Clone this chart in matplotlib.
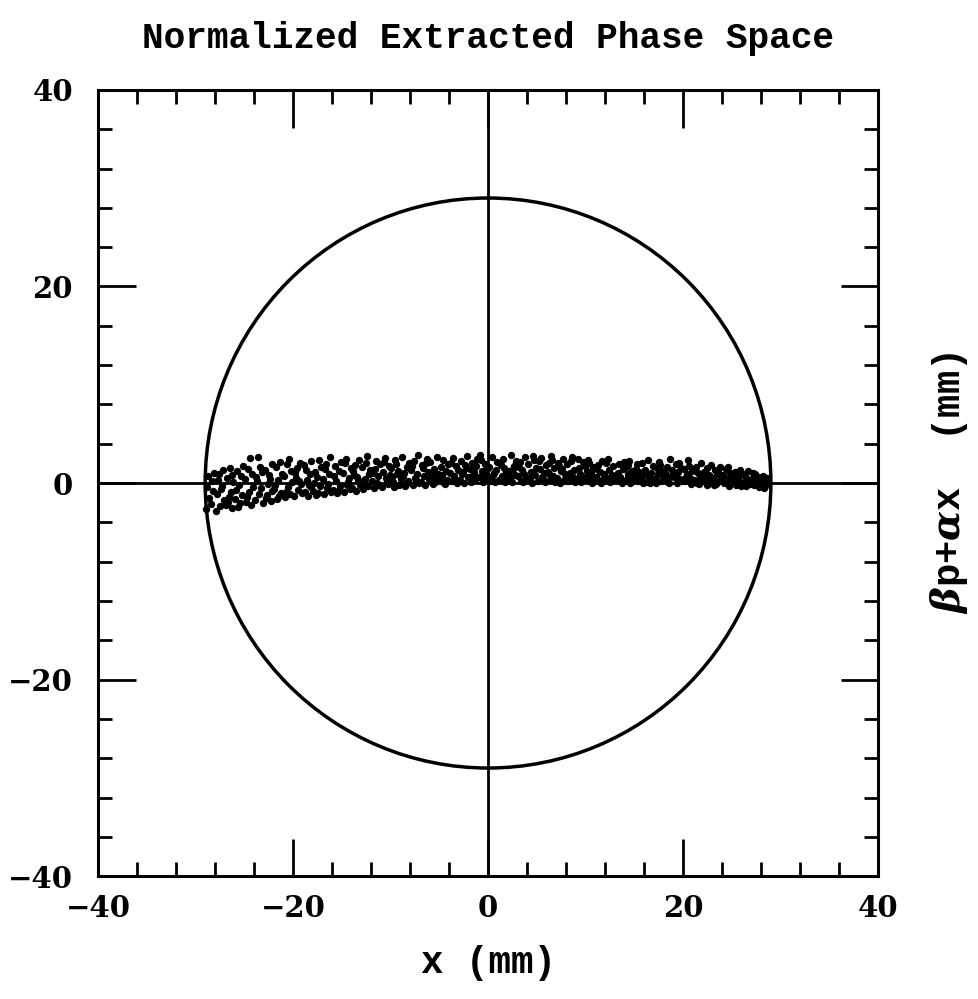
import numpy as np
import matplotlib.pyplot as plt
from matplotlib.patches import Circle
from matplotlib.ticker import MultipleLocator

# extracted particles (mm)
x_pts = [
    -28.9, -28.7, -28.6, -28.4, -28.3, -28.2, -28.8, -28.1,
    -27.9, -27.8, -27.6, -27.5, -27.3, -27.2, -27.1, -27.7, -27.4,
    -26.9, -26.8, -26.6, -26.5, -26.4, -26.2, -26.1, -26.7, -26.3,
    -25.9, -25.7, -25.6, -25.5, -25.3, -25.2, -25.1, -25.8, -25.4,
    -24.9, -24.8, -24.6, -24.5, -24.3, -24.2, -24.1, -24.7, -24.4,
    -23.9, -23.7, -23.6, -23.5, -23.3, -23.2, -23.1, -23.8, -23.4,
    -22.9, -22.8, -22.6, -22.5, -22.3, -22.2, -22.1, -22.7, -22.4,
    -21.9, -21.7, -21.6, -21.5, -21.3, -21.2, -21.1, -21.8, -21.4,
    -20.9, -20.8, -20.6, -20.5, -20.3, -20.2, -20.1, -20.7, -20.4,
    -19.9, -19.7, -19.6, -19.5, -19.3, -19.2, -19.1, -19.8, -19.4,
    -18.9, -18.8, -18.6, -18.5, -18.3, -18.2, -18.1, -18.7, -18.4,
    -17.9, -17.7, -17.6, -17.5, -17.3, -17.2, -17.1, -17.8, -17.4,
    -16.9, -16.8, -16.6, -16.5, -16.3, -16.2, -16.1, -16.7, -16.4,
    -15.9, -15.7, -15.6, -15.5, -15.3, -15.2, -15.1, -15.8, -15.4,
    -14.9, -14.8, -14.6, -14.5, -14.3, -14.2, -14.1, -14.7, -14.4,
    -13.9, -13.7, -13.6, -13.5, -13.3, -13.2, -13.1, -13.8, -13.4,
    -12.9, -12.8, -12.6, -12.5, -12.3, -12.2, -12.1, -12.7, -12.4,
    -11.9, -11.7, -11.6, -11.5, -11.3, -11.2, -11.1, -11.8, -11.4,
    -10.9, -10.8, -10.6, -10.5, -10.3, -10.2, -10.1, -10.7, -10.4,
    -9.9, -9.7, -9.6, -9.5, -9.3, -9.2, -9.1, -9.8, -9.4,
    -8.9, -8.8, -8.6, -8.5, -8.3, -8.2, -8.1, -8.7, -8.4,
    -7.9, -7.7, -7.6, -7.5, -7.3, -7.2, -7.1, -7.8, -7.4,
    -6.9, -6.8, -6.6, -6.5, -6.3, -6.2, -6.1, -6.7, -6.4,
    -5.9, -5.7, -5.6, -5.5, -5.3, -5.2, -5.1, -5.8, -5.4,
    -4.9, -4.8, -4.6, -4.5, -4.3, -4.2, -4.1, -4.7, -4.4,
    -3.9, -3.7, -3.6, -3.5, -3.3, -3.2, -3.1, -3.8, -3.4,
    -2.9, -2.8, -2.6, -2.5, -2.3, -2.2, -2.1, -2.7, -2.4,
    -1.9, -1.7, -1.6, -1.5, -1.3, -1.2, -1.1, -1.8, -1.4,
    -0.9, -0.8, -0.6, -0.5, -0.3, -0.2, -0.1, -0.7, -0.4,
    0.1, 0.2, 0.4, 0.5, 0.7, 0.8, 0.9, 0.3, 0.6,
    1.1, 1.3, 1.4, 1.5, 1.7, 1.8, 1.9, 1.2, 1.6,
    2.1, 2.2, 2.4, 2.5, 2.7, 2.8, 2.9, 2.3, 2.6,
    3.1, 3.3, 3.4, 3.5, 3.7, 3.8, 3.9, 3.2, 3.6,
    4.1, 4.2, 4.4, 4.5, 4.7, 4.8, 4.9, 4.3, 4.6,
    5.1, 5.3, 5.4, 5.5, 5.7, 5.8, 5.9, 5.2, 5.6,
    6.1, 6.2, 6.4, 6.5, 6.7, 6.8, 6.9, 6.3, 6.6,
    7.1, 7.3, 7.4, 7.5, 7.7, 7.8, 7.9, 7.2, 7.6,
    8.1, 8.2, 8.4, 8.5, 8.7, 8.8, 8.9, 8.3, 8.6,
    9.1, 9.3, 9.4, 9.5, 9.7, 9.8, 9.9, 9.2, 9.6,
    10.1, 10.2, 10.4, 10.5, 10.7, 10.8, 10.9, 10.3, 10.6,
    11.1, 11.3, 11.4, 11.5, 11.7, 11.8, 11.9, 11.2, 11.6,
    12.1, 12.2, 12.4, 12.5, 12.7, 12.8, 12.9, 12.3, 12.6,
    13.1, 13.3, 13.4, 13.5, 13.7, 13.8, 13.9, 13.2, 13.6,
    14.1, 14.2, 14.4, 14.5, 14.7, 14.8, 14.9, 14.3, 14.6,
    15.1, 15.3, 15.4, 15.5, 15.7, 15.8, 15.9, 15.2, 15.6,
    16.1, 16.2, 16.4, 16.5, 16.7, 16.8, 16.9, 16.3, 16.6,
    17.1, 17.3, 17.4, 17.5, 17.7, 17.8, 17.9, 17.2, 17.6,
    18.1, 18.2, 18.4, 18.5, 18.7, 18.8, 18.9, 18.3, 18.6,
    19.1, 19.3, 19.4, 19.5, 19.7, 19.8, 19.9, 19.2, 19.6,
    20.1, 20.2, 20.4, 20.5, 20.7, 20.8, 20.9, 20.3, 20.6,
    21.1, 21.3, 21.4, 21.5, 21.7, 21.8, 21.9, 21.2, 21.6,
    22.1, 22.2, 22.4, 22.5, 22.7, 22.8, 22.9, 22.3, 22.6,
    23.1, 23.3, 23.4, 23.5, 23.7, 23.8, 23.9, 23.2, 23.6,
    24.1, 24.2, 24.4, 24.5, 24.7, 24.8, 24.9, 24.3, 24.6,
    25.1, 25.3, 25.4, 25.5, 25.7, 25.8, 25.9, 25.2, 25.6,
    26.1, 26.2, 26.4, 26.5, 26.7, 26.8, 26.9, 26.3, 26.6,
    27.1, 27.3, 27.4, 27.5, 27.7, 27.8, 27.9, 27.2, 27.6,
    28.1, 28.2, 28.4, 28.5, 28.7, 28.3, 28.6,
]
y_pts = [
    -2.6, 0.7, -1.5, -2.1, 0.2, -0.8, -0.4, 1.0,
    -2.8, -1.1, 0.9, -2.3, -0.3, 1.3, -1.7, 0.3, -0.6,
    -2.2, 0.5, -1.4, 1.5, -0.9, -2.5, 0.1, -1.9, 0.8,
    -1.6, 1.2, -2.4, -0.2, 0.7, -1.2, 1.7, -0.7, -2.0,
    0.4, -1.9, 1.4, -0.9, -2.2, 0.9, -0.4, -1.4, 2.5,
    -1.7, 0.2, 2.6, -1.1, -0.5, 1.1, -2.0, 0.6, 1.6,
    1.3, -1.5, -0.1, 0.8, -1.8, 1.9, -0.8, -1.2, 0.4,
    -0.6, 1.6, -1.6, 0.3, 2.1, -1.0, 0.9, -0.2, -1.3,
    0.7, -1.4, 1.9, -0.4, -1.1, 1.2, 0.1, -0.9, 2.4,
    -1.3, 0.5, 1.5, -0.7, 2.0, -0.1, -1.0, 1.0, 0.2,
    1.8, -0.9, 0.3, -1.3, 0.9, -0.4, 2.2, 1.3, -0.2,
    -0.8, 1.1, -1.2, 0.6, 2.3, -0.3, 1.6, 0.0, -1.0,
    0.4, -1.1, 1.9, -0.5, 0.9, 2.6, -0.9, 1.4, -0.1,
    -0.7, 1.7, 0.2, -1.0, 1.2, -0.3, 2.1, 0.7, -0.8,
    1.0, -0.9, 2.4, -0.2, 0.5, -0.6, 1.5, 2.0, 0.1,
    -0.5, 0.8, 1.8, -0.8, 0.3, 2.3, -0.2, 1.2, 0.6,
    1.6, -0.6, 0.4, 2.0, -0.3, 0.9, 1.3, -0.1, 2.7,
    0.2, -0.5, 1.4, 2.2, 0.7, -0.2, 1.9, 1.0, 0.0,
    -0.4, 1.1, 2.5, 0.5, -0.1, 1.7, 0.8, 2.1, 0.2,
    1.5, 0.1, -0.4, 2.3, 0.9, 1.2, -0.2, 0.6, 1.9,
    0.4, 2.6, 1.0, -0.3, 1.6, 0.2, 2.0, 0.7, -0.1,
    1.3, -0.2, 2.2, 0.5, 0.9, 2.8, 0.0, 1.7, 0.3,
    0.1, 1.8, 0.7, -0.2, 2.4, 1.1, 0.4, 1.5, 2.0,
    2.1, 0.6, -0.1, 1.4, 0.3, 2.6, 0.9, 1.0, 0.1,
    0.5, 1.6, 2.3, 0.0, 1.2, 0.3, 1.9, 0.8, -0.1,
    1.0, 0.2, 2.5, 0.7, 1.7, 0.0, 1.3, 2.0, 0.4,
    0.3, 2.2, 1.1, 0.0, 1.5, 2.7, 0.6, 0.9, 1.8,
    1.4, 0.1, 2.0, 0.8, 0.3, 1.7, 2.4, 0.5, 1.1,
    0.6, 2.8, 1.2, 0.1, 1.9, 0.4, 1.4, 2.3, 0.9,
    1.6, 0.2, 2.6, 0.8, 0.1, 1.3, 2.1, 0.5, 1.0,
    0.3, 1.8, 0.7, 2.4, 0.1, 1.1, 0.5, 2.0, 1.5,
    1.2, 0.4, 2.9, 0.1, 1.7, 0.8, 2.2, 0.6, 1.4,
    0.7, 2.1, 0.2, 1.3, 0.9, 2.6, 0.4, 1.6, 0.1,
    1.9, 0.5, 1.1, 0.0, 2.3, 0.8, 1.5, 0.3, 2.7,
    0.2, 1.4, 2.5, 0.6, 1.0, 0.1, 1.8, 2.2, 0.4,
    1.1, 2.0, 0.3, 2.7, 0.7, 1.5, 0.1, 0.9, 2.3,
    0.5, 1.7, 0.0, 1.2, 2.4, 0.3, 0.9, 2.0, 1.4,
    1.9, 0.2, 1.0, 2.2, 0.6, 1.3, 0.1, 0.8, 2.6,
    0.4, 1.5, 0.9, 0.1, 2.1, 0.6, 1.7, 2.4, 0.2,
    1.2, 0.3, 2.0, 0.7, 0.0, 1.6, 0.4, 2.3, 1.0,
    0.6, 1.8, 0.2, 1.1, 2.2, 0.4, 0.9, 1.4, 0.0,
    2.0, 0.5, 1.3, 0.1, 0.8, 1.7, 0.3, 2.4, 0.6,
    0.3, 1.0, 1.9, 0.6, 0.0, 1.4, 2.1, 0.8, 0.2,
    1.6, 0.4, 0.9, 2.2, 0.1, 1.2, 0.5, 1.8, 0.0,
    0.7, 1.9, 0.2, 1.1, 0.5, 2.0, 0.0, 1.4, 0.9,
    1.3, 0.1, 2.3, 0.6, 1.0, 0.3, 1.7, 0.8, 0.0,
    0.4, 1.5, 0.9, 2.1, 0.2, 1.2, 0.6, 0.0, 1.8,
    1.0, 0.3, 1.6, 0.1, 2.4, 0.7, 1.3, 0.5, 0.0,
    0.6, 1.9, 0.0, 1.1, 0.4, 1.5, 0.2, 0.8, 2.0,
    1.4, 0.2, 0.9, 2.3, 0.5, -0.1, 1.2, 0.6, 1.7,
    0.3, 1.6, 0.0, 1.0, 0.6, 2.0, 0.2, 1.3, -0.1,
    1.1, 0.4, 1.5, -0.2, 0.8, 0.1, 1.8, 0.6, 0.2,
    0.5, 1.3, -0.1, 0.9, 0.2, 1.6, 0.7, -0.2, 1.1,
    0.8, 0.0, 1.4, 0.4, -0.3, 1.0, 0.6, 0.2, 1.6,
    0.3, 1.1, -0.2, 0.7, 0.1, 1.3, -0.3, 0.9, 0.5,
    0.9, 0.1, 0.5, -0.3, 1.2, 0.3, -0.1, 0.7, 0.0,
    0.4, -0.2, 0.9, 0.1, 0.6, -0.4, 0.3, 1.0, -0.1,
    0.2, 0.7, -0.3, 0.4, 0.0, -0.5, 0.5,
]

aperture_radius = 29.0  # mm
axis_lim = [-40, 40]
tick_vals = [-40, -20, 0, 20, 40]
tick_text = ['\u221240', '\u221220', '0', '20', '40']

plt.rcParams['font.family'] = 'DejaVu Serif'
plt.rcParams['font.weight'] = 'bold'
plt.rcParams['mathtext.fontset'] = 'dejavuserif'

fig = plt.figure(figsize=(9.79, 9.99), dpi=100)
ax = fig.add_axes([0.100, 0.123, 0.797, 0.787])

ax.plot(x_pts, y_pts, 'o', color='black', markersize=5.3, markeredgewidth=0)
ax.add_patch(Circle((0, 0), aperture_radius, fill=False, edgecolor='black', linewidth=2.5))
ax.axhline(0, color='black', linewidth=2.0)
ax.axvline(0, color='black', linewidth=2.0)

ax.set_xlim(axis_lim)
ax.set_ylim(axis_lim)
ax.set_xticks(tick_vals)
ax.set_yticks(tick_vals)
ax.xaxis.set_minor_locator(MultipleLocator(4))
ax.yaxis.set_minor_locator(MultipleLocator(4))
ax.tick_params(which='both', direction='in', top=True, right=True, width=2.0)
ax.tick_params(which='major', length=27, labelsize=21)
ax.tick_params(which='minor', length=10)
ax.tick_params(axis='x', which='major', pad=13)
ax.tick_params(axis='y', which='major', pad=18)
for s in ax.spines.values():
    s.set_linewidth(2.2)
ax.set_xticklabels(tick_text)
ax.set_yticklabels(tick_text)

mono = 'Liberation Mono'
ax.set_title('Normalized Extracted Phase Space', fontsize=26, fontweight='bold',
             family=mono, pad=30)
ax.set_xlabel('x (mm)', fontsize=27, fontweight='bold', family=mono, labelpad=16)
ax.yaxis.set_label_position('right')
ax.set_ylabel(r'$\beta$p+$\alpha$x  (mm)', fontsize=28, fontweight='bold',
              family=mono, labelpad=36)

plt.savefig('out.png', dpi=100)
